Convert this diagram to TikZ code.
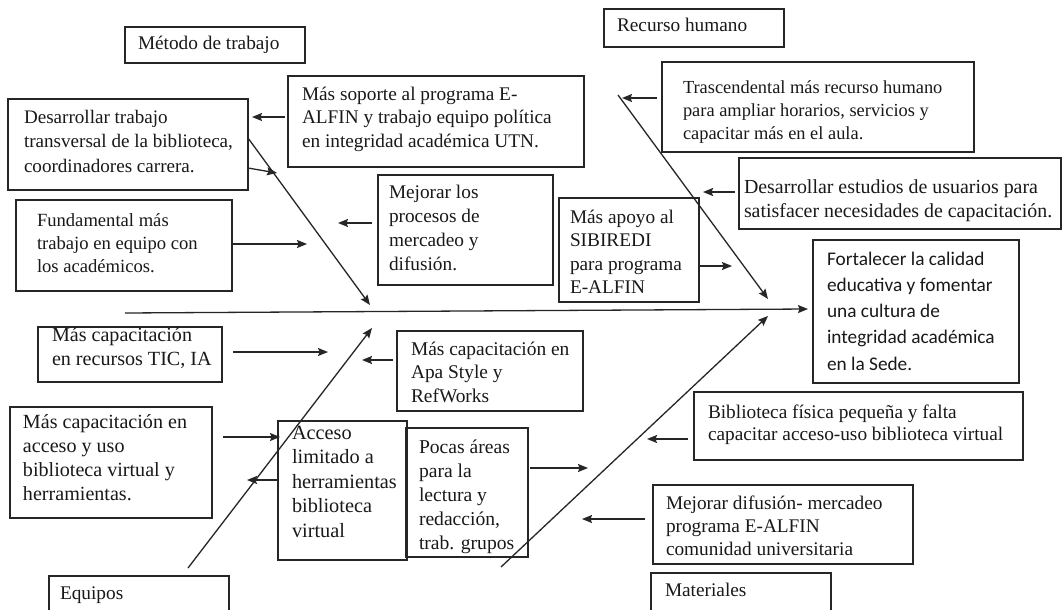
\documentclass[tikz,border=0pt]{standalone}
\usepackage{fontspec}
\setmainfont{Liberation Serif}
\newfontfamily\calfont{Carlito}
\usetikzlibrary{arrows.meta,calc}
\newcommand\tl[1]{\vtop{\halign{##\hfil\cr#1\crcr}}}
\tikzset{
  frame/.style={draw=black!85, line width=1.3pt, inner sep=0pt, outer sep=0pt},
  txt/.style={inner sep=0pt, outer sep=0pt, text=black!90, font=\fontsize{19.3}{23.5}\selectfont},
  fs/.style 2 args={font=\fontsize{#1}{#2}\selectfont},
  arr/.style={draw=black!85, line width=1.3pt, -{Stealth[length=10pt,width=8pt,inset=1.5pt]}},
}
\newcommand\bx[8][]{%
  \node[frame, anchor=north west, minimum width={(#5-#3)*1pt}, minimum height={(#6-#4)*1pt}] (#2) at (#3,#4) {};
  \node[txt, #1, anchor=base west] (#2t) at ($(#2.north west)+(#7)$) {\tl{#8}};
}
\begin{document}
\begin{tikzpicture}[x=1pt,y=-1pt]
\useasboundingbox (0,0) rectangle (1063,610);
\clip (0,0) rectangle (1063,610);
\fill[white] (0,0) rectangle (1063,610);

% boxes
\bx{metodo}{125}{27}{305}{63}{13,23}{Método de trabajo}
\bx{recurso}{604}{9}{784}{47}{13,23}{Recurso humano}
\bx[fs={19.1}{24.5}]{desarr}{8}{99}{248}{190}{16,24}{Desarrollar trabajo\cr transversal de la biblioteca,\cr coordinadores carrera.}
\bx{soporte}{288}{76}{584}{167}{14,24}{Más soporte al programa E-\cr ALFIN y trabajo equipo política\cr en integridad académica UTN.}
\bx[fs={18.6}{23}]{fundam}{16}{200}{232}{291}{21,26}{Fundamental más\cr trabajo en equipo con\cr los académicos.}
\bx[fs={19.3}{24}]{mejproc}{378}{175}{553}{285}{11,23}{Mejorar los\cr procesos de\cr mercadeo y\cr difusión.}
\bx[fs={18.4}{23.5}]{trasc}{662}{62}{974}{152}{21,31}{Trascendental más recurso humano\cr para ampliar horarios, servicios y\cr capacitar más en el aula.}
\bx[fs={19.9}{24}]{estud}{739}{158}{1061}{229}{5,35}{Desarrollar estudios de usuarios para\cr satisfacer necesidades de capacitación.}
\bx{apoyo}{559}{198}{699}{302}{11,25}{Más apoyo al\cr SIBIREDI\cr para programa\cr E-ALFIN}
\bx[font=\calfont\fontsize{19.3}{26.3}\selectfont]{goal}{813}{240}{1019}{383}{14,25}{Fortalecer la calidad\cr educativa y fomentar\cr una cultura de\cr integridad académica\cr en la Sede.}
\bx[fs={20.1}{24}]{tic}{38}{327}{222}{382}{14,14}{Más capacitación\cr en recursos TIC, IA}
\bx[fs={20.1}{24}]{acceso}{10}{407}{212}{518}{13,21}{Más capacitación en\cr acceso y uso\cr biblioteca virtual y\cr herramientas.}
\bx[fs={20.3}{24.5}]{limit}{278}{421}{407}{560}{14,18}{Acceso\cr limitado a\cr herramientas\cr biblioteca\cr virtual}
\bx[fs={19.4}{23.5}]{apa}{397}{331}{583}{411}{14,24}{Más capacitación en\cr Apa Style y\cr RefWorks}
\bx[fs={19.6}{24}]{pocas}{406}{428}{528}{557}{13,25}{Pocas áreas\cr para la\cr lectura y\cr redacción,\cr trab. grupos}
\bx[fs={19.3}{22}]{biblio}{694}{392}{1023}{460}{14,26}{Biblioteca física pequeña y falta\cr capacitar acceso-uso biblioteca virtual}
\bx[fs={19.3}{23}]{difus}{653}{485}{913}{564}{13,24}{Mejorar difusión- mercadeo\cr programa E-ALFIN\cr comunidad universitaria}
\bx{equipos}{49}{576}{229}{625}{11,23}{Equipos}
\bx{mater}{651}{573}{831}{625}{14,23}{Materiales}

% spine
\coordinate (sp0) at (125,313);
\coordinate (sp1) at (808,309);
\draw[arr] (sp0) -- (sp1);

% diagonal bones
\coordinate (d1e) at (370,305);
\draw[arr] (desarr.east |- 0,138) -- (d1e);
\coordinate (d2s) at (618,95);
\coordinate (d2e) at (768,299);
\draw[arr] (d2s) -- (d2e);
\coordinate (d3s) at (188,568);
\coordinate (d3e) at (372,328);
\draw[arr] (d3s) -- (d3e);
\coordinate (d4s) at (501,567);
\coordinate (d4e) at (768,316);
\draw[arr] (d4s) -- (d4e);

% branch arrows
\coordinate (a1) at (252,117);
\draw[arr] ($(soporte.west |- 0,117)+(-3,0)$) -- (a1);
\coordinate (a2) at (277,173);
\draw[arr] (desarr.east |- 0,168) -- (a2);
\coordinate (a3) at (338,223);
\draw[arr] ($(mejproc.west |- 0,223)+(-6,0)$) -- (a3);
\coordinate (a4) at (307,244);
\draw[arr] (fundam.east |- 0,244) -- (a4);
\coordinate (a5) at (622,98);
\draw[arr] ($(trasc.west |- 0,98)+(-5,0)$) -- (a5);
\coordinate (a6) at (703,192);
\draw[arr] ($(estud.west |- 0,192)+(-4,0)$) -- (a6);
\coordinate (a7) at (732,266);
\draw[arr] (apoyo.east |- 0,266) -- (a7);
\coordinate (a8) at (328,352);
\draw[arr] ($(tic.east |- 0,352)+(11,0)$) -- (a8);
\coordinate (a9) at (362,360);
\draw[arr] ($(apa.west |- 0,360)+(-4,0)$) -- (a9);
\coordinate (a10) at (280,437);
\draw[arr] ($(acceso.east |- 0,437)+(11,0)$) -- (a10);
\coordinate (a11) at (247,480);
\draw[arr] (limit.west |- 0,480) -- (a11);
\coordinate (a12) at (588,468);
\draw[arr] ($(pocas.east |- 0,468)+(2,0)$) -- (a12);
\coordinate (a13) at (647,439);
\draw[arr] ($(biblio.west |- 0,439)+(-6,0)$) -- (a13);
\coordinate (a14) at (582,519);
\draw[arr] ($(difus.west |- 0,519)+(-8,0)$) -- (a14);
\end{tikzpicture}
\end{document}
